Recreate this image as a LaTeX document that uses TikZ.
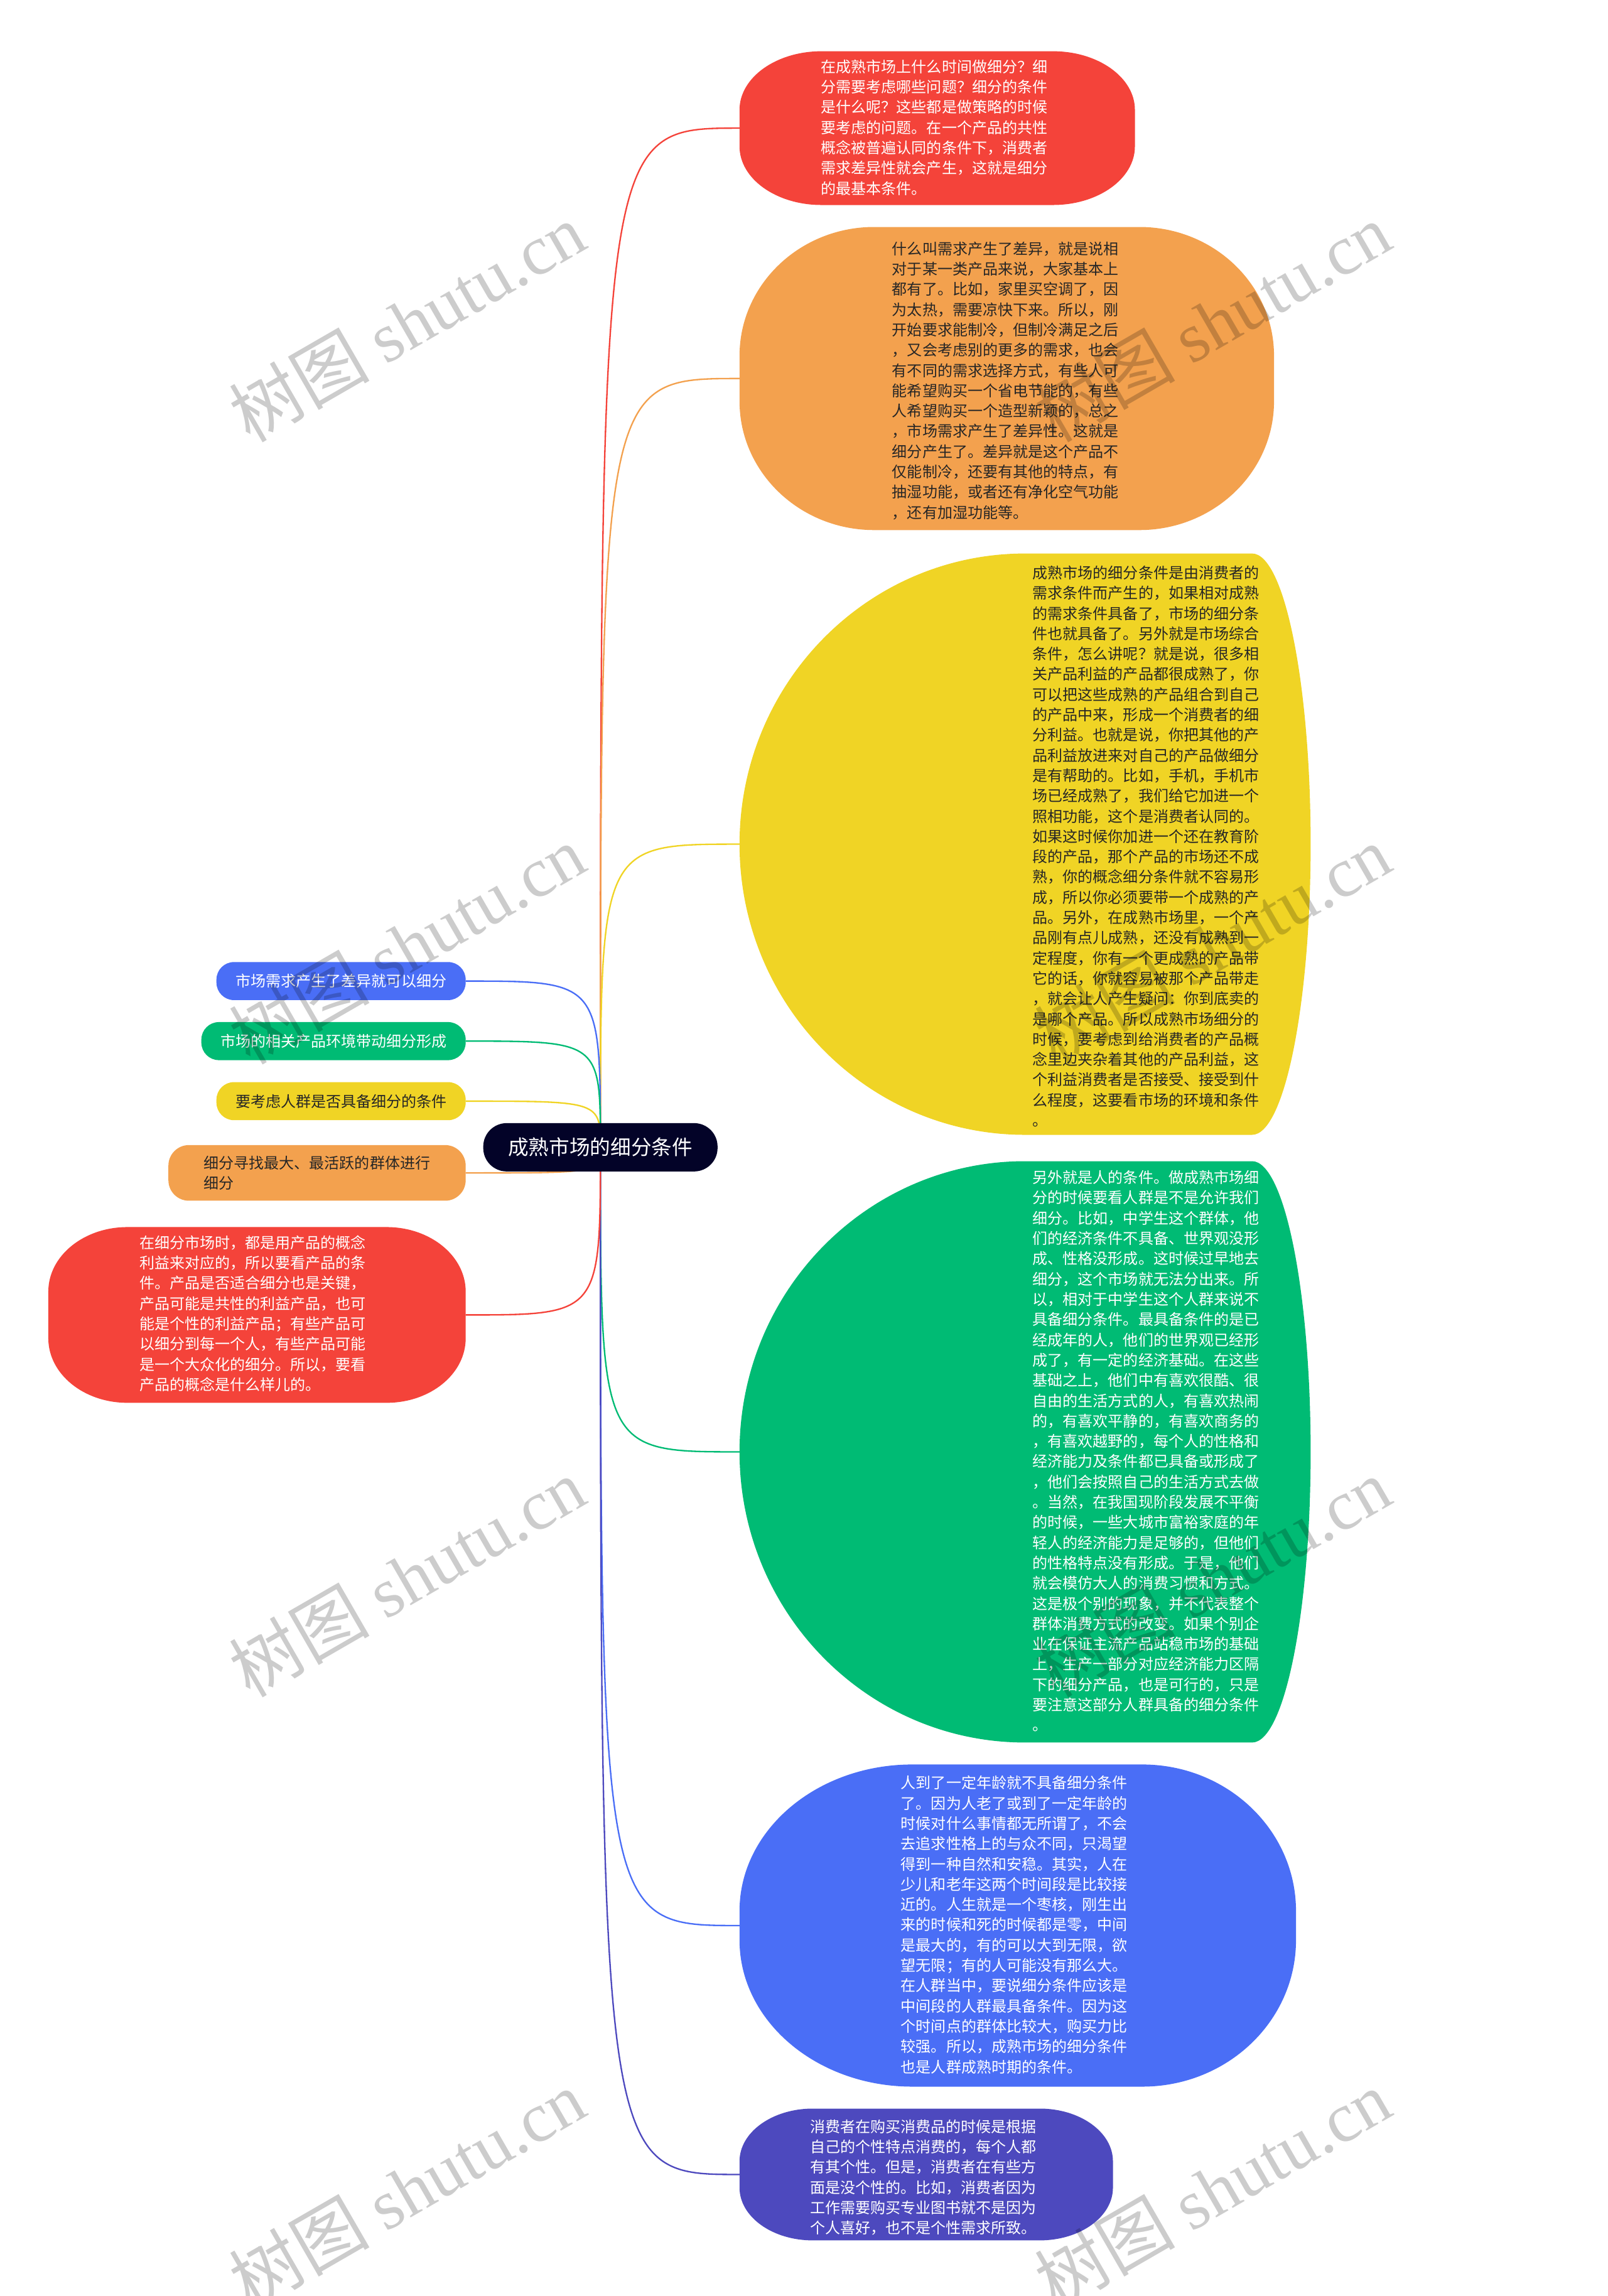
\documentclass[tikz,border=0pt]{standalone}
\usepackage{fontspec}
\setmainfont{Noto Sans CJK SC}
\newfontfamily\wmfont{Liberation Serif}
\usepackage{tikz}
\usetikzlibrary{backgrounds}
\definecolor{cRed}{HTML}{F4433A}
\definecolor{cOrange}{HTML}{F3A14E}
\definecolor{cYellow}{HTML}{F0D425}
\definecolor{cGreen}{HTML}{00BB74}
\definecolor{cBlue}{HTML}{4A6EF6}
\definecolor{cIndigo}{HTML}{4D49BE}
\definecolor{cNavy}{HTML}{030328}
\definecolor{cInk}{HTML}{262626}
\tikzstyle{branch} = [draw, line width=1pt]
\tikzstyle{blob} = [draw=none, inner sep=0pt, outer sep=0pt]
\tikzstyle{para} = [align=left, inner sep=0pt, font=\fontsize{10.3}{13.85}\selectfont]
\newcommand{\blobfill}[6]{%
  \fill[#2] ([xshift=#3]#1.north west) -- ([xshift=-#5]#1.north east)
    arc[start angle=90, end angle=0, x radius=#5, y radius=#6]
    -- ([yshift=#6]#1.south east)
    arc[start angle=0, end angle=-90, x radius=#5, y radius=#6]
    -- ([xshift=#3]#1.south west)
    arc[start angle=270, end angle=180, x radius=#3, y radius=#4]
    -- ([yshift=-#4]#1.north west)
    arc[start angle=180, end angle=90, x radius=#3, y radius=#4] -- cycle;}

\begin{document}
\begin{tikzpicture}[x=1pt,y=1pt]
\tikzstyle{leaf} = [rounded corners=12pt, minimum height=26pt, inner xsep=13pt,
  inner ysep=0pt, outer sep=0pt, font=\fontsize{10.3}{13.85}\selectfont]
\tikzstyle{wmark} = [rotate=30, text=black, text opacity=0.2,
  font=\fontsize{48}{48}\selectfont]
\useasboundingbox (0,0) rectangle (1098,-1568);

\node[fill=cNavy, text=white, rounded corners=16pt, minimum width=160pt,
  minimum height=33pt, inner sep=0pt, font=\fontsize{14}{16}\selectfont]
  (root) at (410,-783.5) {成熟市场的细分条件};

% right side
\node[blob, minimum width=270pt, minimum height=105pt] (r1) at (640,-87.5) {};
\node[para, text=white] (r1t) at (638,-87) {在成熟市场上什么时间做细分？细\\
分需要考虑哪些问题？细分的条件\\
是什么呢？这些都是做策略的时候\\
要考虑的问题。在一个产品的共性\\
概念被普遍认同的条件下，消费者\\
需求差异性就会产生，这就是细分\\
的最基本条件。};

\node[blob, minimum width=365pt, minimum height=207pt] (r2) at (687.5,-258.5) {};
\node[para, text=cInk] (r2t) at (686.5,-260) {什么叫需求产生了差异，就是说相\\
对于某一类产品来说，大家基本上\\
都有了。比如，家里买空调了，因\\
为太热，需要凉快下来。所以，刚\\
开始要求能制冷，但制冷满足之后\\
，又会考虑别的更多的需求，也会\\
有不同的需求选择方式，有些人可\\
能希望购买一个省电节能的，有些\\
人希望购买一个造型新颖的，总之\\
，市场需求产生了差异性。这就是\\
细分产生了。差异就是这个产品不\\
仅能制冷，还要有其他的特点，有\\
抽湿功能，或者还有净化空气功能\\
，还有加湿功能等。};

\node[blob, minimum width=390pt, minimum height=397pt] (r3) at (700,-576.5) {};
\node[para, text=cInk] (r3t) at (782.5,-578) {成熟市场的细分条件是由消费者的\\
需求条件而产生的，如果相对成熟\\
的需求条件具备了，市场的细分条\\
件也就具备了。另外就是市场综合\\
条件，怎么讲呢？就是说，很多相\\
关产品利益的产品都很成熟了，你\\
可以把这些成熟的产品组合到自己\\
的产品中来，形成一个消费者的细\\
分利益。也就是说，你把其他的产\\
品利益放进来对自己的产品做细分\\
是有帮助的。比如，手机，手机市\\
场已经成熟了，我们给它加进一个\\
照相功能，这个是消费者认同的。\\
如果这时候你加进一个还在教育阶\\
段的产品，那个产品的市场还不成\\
熟，你的概念细分条件就不容易形\\
成，所以你必须要带一个成熟的产\\
品。另外，在成熟市场里，一个产\\
品刚有点儿成熟，还没有成熟到一\\
定程度，你有一个更成熟的产品带\\
它的话，你就容易被那个产品带走\\
，就会让人产生疑问：你到底卖的\\
是哪个产品。所以成熟市场细分的\\
时候，要考虑到给消费者的产品概\\
念里边夹杂着其他的产品利益，这\\
个利益消费者是否接受、接受到什\\
么程度，这要看市场的环境和条件\\
。};

\node[blob, minimum width=390pt, minimum height=397pt] (r4) at (700,-991.5) {};
\node[para, text=white] (r4t) at (782.5,-991) {另外就是人的条件。做成熟市场细\\
分的时候要看人群是不是允许我们\\
细分。比如，中学生这个群体，他\\
们的经济条件不具备、世界观没形\\
成、性格没形成。这时候过早地去\\
细分，这个市场就无法分出来。所\\
以，相对于中学生这个人群来说不\\
具备细分条件。最具备条件的是已\\
经成年的人，他们的世界观已经形\\
成了，有一定的经济基础。在这些\\
基础之上，他们中有喜欢很酷、很\\
自由的生活方式的人，有喜欢热闹\\
的，有喜欢平静的，有喜欢商务的\\
，有喜欢越野的，每个人的性格和\\
经济能力及条件都已具备或形成了\\
，他们会按照自己的生活方式去做\\
。当然，在我国现阶段发展不平衡\\
的时候，一些大城市富裕家庭的年\\
轻人的经济能力是足够的，但他们\\
的性格特点没有形成。于是，他们\\
就会模仿大人的消费习惯和方式。\\
这是极个别的现象，并不代表整个\\
群体消费方式的改变。如果个别企\\
业在保证主流产品站稳市场的基础\\
上，生产一部分对应经济能力区隔\\
下的细分产品，也是可行的，只是\\
要注意这部分人群具备的细分条件\\
。};

\node[blob, minimum width=380pt, minimum height=220pt] (r5) at (695,-1315) {};
\node[para, text=white] (r5t) at (692.5,-1314.5) {人到了一定年龄就不具备细分条件\\
了。因为人老了或到了一定年龄的\\
时候对什么事情都无所谓了，不会\\
去追求性格上的与众不同，只渴望\\
得到一种自然和安稳。其实，人在\\
少儿和老年这两个时间段是比较接\\
近的。人生就是一个枣核，刚生出\\
来的时候和死的时候都是零，中间\\
是最大的，有的可以大到无限，欲\\
望无限；有的人可能没有那么大。\\
在人群当中，要说细分条件应该是\\
中间段的人群最具备条件。因为这\\
个时间点的群体比较大，购买力比\\
较强。所以，成熟市场的细分条件\\
也是人群成熟时期的条件。};

\node[blob, minimum width=255pt, minimum height=90pt] (r6) at (632.5,-1485) {};
\node[para, text=white] (r6t) at (630.5,-1487) {消费者在购买消费品的时候是根据\\
自己的个性特点消费的，每个人都\\
有其个性。但是，消费者在有些方\\
面是没个性的。比如，消费者因为\\
工作需要购买专业图书就不是因为\\
个人喜好，也不是个性需求所致。};

% left side
\node[leaf, fill=cBlue, text=white, anchor=east] (l1) at (318,-670) {市场需求产生了差异就可以细分};
\node[leaf, fill=cGreen, text=white, anchor=east] (l2) at (318,-711) {市场的相关产品环境带动细分形成};
\node[leaf, fill=cYellow, text=cInk, anchor=east] (l3) at (318,-752) {要考虑人群是否具备细分的条件};
\node[leaf, fill=cOrange, text=cInk, anchor=east, align=left, minimum width=203pt,
  minimum height=38pt, rounded corners=14pt] (l4) at (318,-801) {细分寻找最大、最活跃的群体进行\\细分};

\node[blob, minimum width=285pt, minimum height=120pt] (l5) at (175.5,-898) {};
\node[para, text=white] (l5t) at (172.5,-897) {在细分市场时，都是用产品的概念\\
利益来对应的，所以要看产品的条\\
件。产品是否适合细分也是关键，\\
产品可能是共性的利益产品，也可\\
能是个性的利益产品；有些产品可\\
以细分到每一个人，有些产品可能\\
是一个大众化的细分。所以，要看\\
产品的概念是什么样儿的。};

\begin{scope}[on background layer]
\blobfill{r1}{cRed}{56pt}{40pt}{56pt}{40pt}
\blobfill{r2}{cOrange}{92pt}{88pt}{92pt}{88pt}
\blobfill{r3}{cYellow}{195pt}{198.5pt}{40pt}{198.5pt}
\blobfill{r4}{cGreen}{195pt}{198.5pt}{40pt}{198.5pt}
\blobfill{r5}{cBlue}{118pt}{100pt}{105pt}{100pt}
\blobfill{r6}{cIndigo}{50pt}{36pt}{50pt}{36pt}
\blobfill{l5}{cRed}{54pt}{44pt}{54pt}{44pt}
\foreach \n/\c in {r1/cRed, r2/cOrange, r3/cYellow, r4/cGreen, r5/cBlue, r6/cIndigo}
  \path[branch, draw=\c] (root.center) .. controls (root.center |- \n.west) .. (\n.west);
\foreach \n/\c in {l1/cBlue, l2/cGreen, l3/cYellow, l4/cOrange, l5/cRed}
  \path[branch, draw=\c] (root.center) .. controls (root.center |- \n.east) .. (\n.east);
\end{scope}

% watermark
\foreach \wx in {278,828}
  \foreach \wy in {220,645,1077,1495}
    \node[wmark] (wm-\wx-\wy) at (\wx,-\wy) {树图 {\wmfont shutu.cn}};
\end{tikzpicture}
\end{document}
